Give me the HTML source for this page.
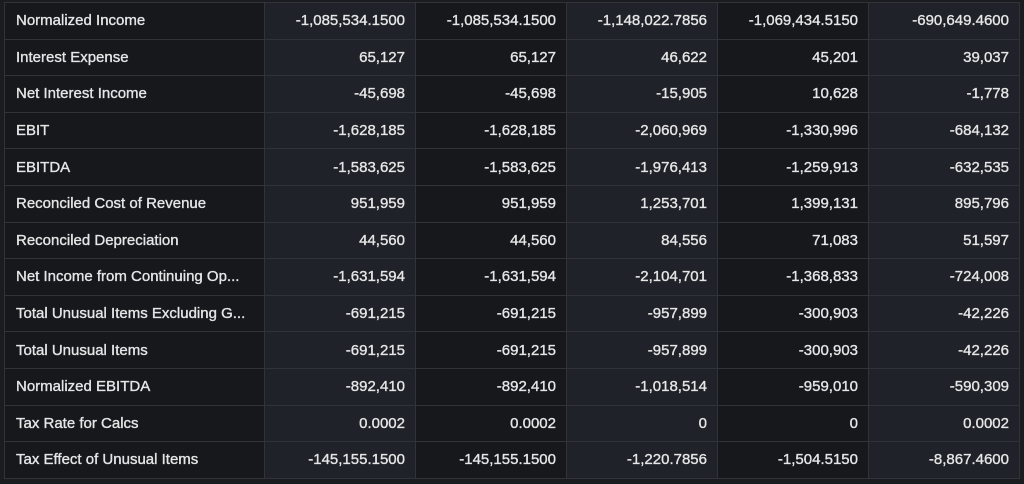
<!DOCTYPE html><html><head><style>
body{margin:0;background:#1a1c20;width:1024px;height:484px;overflow:hidden}
table{position:absolute;left:4px;top:2px;border-collapse:collapse;font-family:"Liberation Sans",sans-serif;font-size:15px;color:#e6e6e6;-webkit-text-stroke:0.35px #e6e6e6}
td{height:36.6px;border:1px solid #30343a;padding:0 10px;white-space:nowrap;box-sizing:border-box}
td:first-child{width:260px;text-align:left;background:#17181c;padding-left:11px}
td:not(:first-child){width:151px;text-align:right}
td:nth-child(2),td:nth-child(4),td:nth-child(6){background:#1f2228}
td:nth-child(3),td:nth-child(5){background:#17181c}
</style></head><body><table>
<tr><td>Normalized Income</td><td>-1,085,534.1500</td><td>-1,085,534.1500</td><td>-1,148,022.7856</td><td>-1,069,434.5150</td><td>-690,649.4600</td></tr>
<tr><td>Interest Expense</td><td>65,127</td><td>65,127</td><td>46,622</td><td>45,201</td><td>39,037</td></tr>
<tr><td>Net Interest Income</td><td>-45,698</td><td>-45,698</td><td>-15,905</td><td>10,628</td><td>-1,778</td></tr>
<tr><td>EBIT</td><td>-1,628,185</td><td>-1,628,185</td><td>-2,060,969</td><td>-1,330,996</td><td>-684,132</td></tr>
<tr><td>EBITDA</td><td>-1,583,625</td><td>-1,583,625</td><td>-1,976,413</td><td>-1,259,913</td><td>-632,535</td></tr>
<tr><td>Reconciled Cost of Revenue</td><td>951,959</td><td>951,959</td><td>1,253,701</td><td>1,399,131</td><td>895,796</td></tr>
<tr><td>Reconciled Depreciation</td><td>44,560</td><td>44,560</td><td>84,556</td><td>71,083</td><td>51,597</td></tr>
<tr><td>Net Income from Continuing Op...</td><td>-1,631,594</td><td>-1,631,594</td><td>-2,104,701</td><td>-1,368,833</td><td>-724,008</td></tr>
<tr><td>Total Unusual Items Excluding G...</td><td>-691,215</td><td>-691,215</td><td>-957,899</td><td>-300,903</td><td>-42,226</td></tr>
<tr><td>Total Unusual Items</td><td>-691,215</td><td>-691,215</td><td>-957,899</td><td>-300,903</td><td>-42,226</td></tr>
<tr><td>Normalized EBITDA</td><td>-892,410</td><td>-892,410</td><td>-1,018,514</td><td>-959,010</td><td>-590,309</td></tr>
<tr><td>Tax Rate for Calcs</td><td>0.0002</td><td>0.0002</td><td>0</td><td>0</td><td>0.0002</td></tr>
<tr><td>Tax Effect of Unusual Items</td><td>-145,155.1500</td><td>-145,155.1500</td><td>-1,220.7856</td><td>-1,504.5150</td><td>-8,867.4600</td></tr>
</table></body></html>
